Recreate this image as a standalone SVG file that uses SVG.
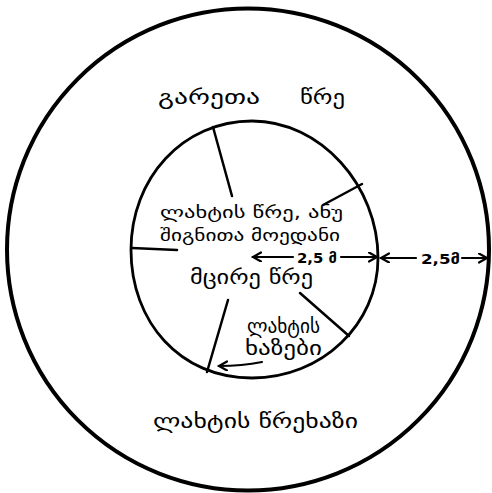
<svg xmlns="http://www.w3.org/2000/svg" width="492" height="493" viewBox="0 0 492 493">
<style>
.ring{fill:none;stroke:#000;}
.ln{fill:none;stroke:#000;stroke-width:2.5;stroke-linecap:round;}
.ar{fill:none;stroke:#000;stroke-width:2.2;stroke-linecap:round;}
.t{font-family:"DejaVu Sans",sans-serif;font-size:20px;fill:#000;}
.s{font-size:17px;}
.d{font-family:"DejaVu Sans",sans-serif;font-size:14px;font-weight:bold;fill:#000;}
</style>
<defs>
<marker id="ah" markerUnits="userSpaceOnUse" markerWidth="12" markerHeight="12" refX="9" refY="5" orient="auto">
<path d="M1,0.5 L9,5 L1,9.5" fill="none" stroke="#000" stroke-width="2.2" stroke-linecap="round"/>
</marker>
</defs>
<rect width="492" height="493" fill="#fff"/>
<g id="outer-circle">
<circle class="ring" cx="248" cy="249.5" r="241" stroke-width="4"/>
<text class="t" x="158" y="104" textLength="102" lengthAdjust="spacingAndGlyphs">გარეთა</text>
<text class="t" x="300" y="104" textLength="45" lengthAdjust="spacingAndGlyphs">წრე</text>
</g>
<g id="inner-circle">
<path class="ring" stroke-width="2.8" d="M252,121 C321,121 378,186 378,258 C378,324 322,378 252,378 C180,378 131,322 131,250 C131,178 183,121 252,121 Z"/>
<text class="t s" x="160" y="218" textLength="183" lengthAdjust="spacingAndGlyphs">ლახტის წრე, ანუ</text>
<text class="t s" x="160" y="241" textLength="180" lengthAdjust="spacingAndGlyphs">შიგნითა მოედანი</text>
<text class="t" x="190" y="284" textLength="123" lengthAdjust="spacingAndGlyphs">მცირე წრე</text>
</g>
<g id="lakhti-lines-label">
<text class="t" x="247" y="333" textLength="73" lengthAdjust="spacingAndGlyphs">ლახტის</text>
<text class="t" x="245" y="355" textLength="77" lengthAdjust="spacingAndGlyphs">ხაზები</text>
</g>
<g id="lakhti-circumference-label">
<text class="t" x="153" y="428" textLength="205" lengthAdjust="spacingAndGlyphs">ლახტის წრეხაზი</text>
</g>
<g id="dim-inner">
<text class="d" x="297" y="263" textLength="40" lengthAdjust="spacingAndGlyphs">2,5 მ</text>
</g>
<g id="dim-outer">
<text class="d" x="421" y="264" textLength="39" lengthAdjust="spacingAndGlyphs">2,5მ</text>
</g>
<g id="connectors">
<line class="ln" x1="213" y1="127" x2="232" y2="196"/>
<line class="ln" x1="362" y1="184" x2="323" y2="205"/>
<line class="ln" x1="132" y1="248" x2="177" y2="250"/>
<line class="ln" x1="300" y1="293" x2="349" y2="336"/>
<line class="ln" x1="228" y1="300" x2="207" y2="372"/>
<path class="ar" d="M262,362 Q242,366 219,366" marker-end="url(#ah)"/>
<line class="ar" x1="293" y1="257" x2="253" y2="257" marker-end="url(#ah)"/>
<line class="ar" x1="341" y1="257" x2="377" y2="257" marker-end="url(#ah)"/>
<line class="ar" x1="416" y1="258" x2="381" y2="258" marker-end="url(#ah)"/>
<line class="ar" x1="462" y1="258" x2="487" y2="258" marker-end="url(#ah)"/>
</g>
</svg>
